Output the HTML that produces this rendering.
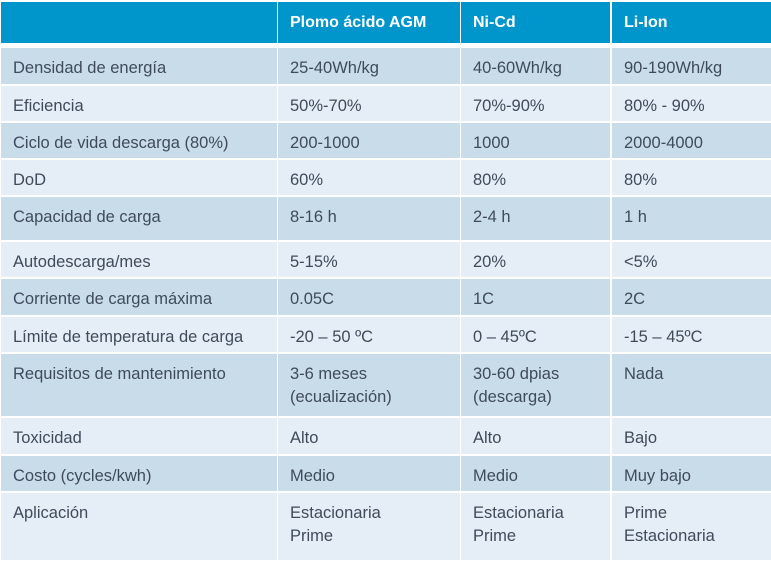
<!DOCTYPE html>
<html><head><meta charset="utf-8"><style>
body{margin:0;width:771px;height:565px;background:#fff;position:relative;overflow:hidden;font-family:"Liberation Sans",sans-serif;}
.c{position:absolute;box-sizing:border-box;padding:9px 0 0 12px;font-size:16.5px;line-height:23px;color:#3f4b5b;}
.h{background:#0096cc;color:#fff;font-weight:bold;padding-top:9px;font-size:16px;}
.d{background:#c9dcea}.l{background:#e5eef6}
</style></head><body>
<div id="t"></div>
<script>
var cols=[[1,276],[278,182],[461,149],[612,159]];
var rows=[[2,41],[48,36],[86,35],[123,35],[160,35],[197,43],[242,35],[279,36],[317,35],[354,62],[418,36],[456,35],[493,67]];
var data=[
["","Plomo ácido AGM","Ni-Cd","Li-Ion"],
["Densidad de energía","25-40Wh/kg","40-60Wh/kg","90-190Wh/kg"],
["Eficiencia","50%-70%","70%-90%","80% - 90%"],
["Ciclo de vida descarga (80%)","200-1000","1000","2000-4000"],
["DoD","60%","80%","80%"],
["Capacidad de carga","8-16 h","2-4 h","1 h"],
["Autodescarga/mes","5-15%","20%","&lt;5%"],
["Corriente de carga máxima","0.05C","1C","2C"],
["Límite de temperatura de carga","-20 – 50 ºC","0 – 45ºC","-15 – 45ºC"],
["Requisitos de mantenimiento","3-6 meses<br>(ecualización)","30-60 dpias<br>(descarga)","Nada"],
["Toxicidad","Alto","Alto","Bajo"],
["Costo (cycles/kwh)","Medio","Medio","Muy bajo"],
["Aplicación","Estacionaria<br>Prime","Estacionaria<br>Prime","Prime<br>Estacionaria"]];
var h="";
for(var r=0;r<rows.length;r++){for(var c=0;c<4;c++){
var cls=r==0?"h":(r%2==1?"d":"l");
h+='<div class="c '+cls+'" style="left:'+cols[c][0]+'px;width:'+cols[c][1]+'px;top:'+rows[r][0]+'px;height:'+rows[r][1]+'px">'+data[r][c]+'</div>';}}
document.getElementById("t").innerHTML=h;
</script>
</body></html>
